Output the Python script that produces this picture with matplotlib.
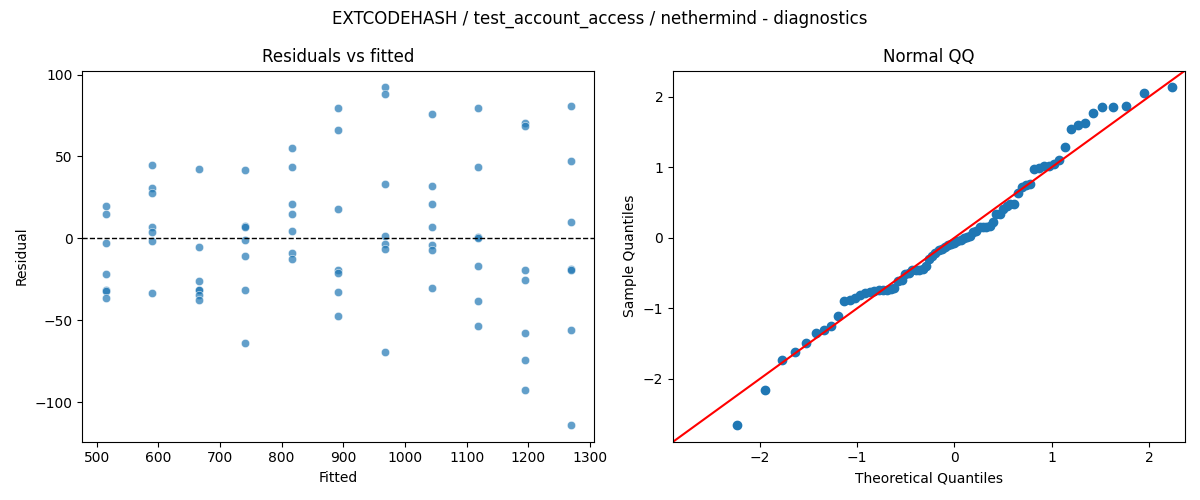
import numpy as np
import matplotlib
matplotlib.use("Agg")
import matplotlib.pyplot as plt
import seaborn as sns
from statistics import NormalDist

# Fitted value levels (x positions of the residual columns)
fitted_levels = [514.5, 590, 665.5, 741, 816.5, 892, 967.5, 1043, 1118.5, 1194, 1269]

# Residuals at each fitted level
resid_515 = [19.5, 14.6, -3.1, -21.7, -31.4, -32.1, -36.3]
resid_590 = [45.0, 31.0, 27.4, 6.9, 3.9, -1.8, -33.3]
resid_666 = [42.6, -5.5, -26.1, -31.2, -31.8, -34.3, -37.4]
resid_741 = [41.9, 7.6, 6.9, -1.2, -10.9, -31.6, -63.9]
resid_817 = [55.4, 43.8, 20.7, 14.6, 4.3, -9.1, -12.8]
resid_892 = [79.7, 66.3, 17.7, -19.3, -21.3, -32.9, -47.5]
resid_968 = [92.1, 88.3, 32.9, 1.4, -3.5, -6.7, -69.4]
resid_1043 = [76.0, 32.2, 20.7, 6.9, -4.1, -7.3, -30.4]
resid_1118 = [79.7, 43.8, 0.8, 0.4, -17.0, -38.2, -53.6]
resid_1194 = [70.2, 68.6, -19.5, -25.5, -57.9, -74.3, -92.5]
resid_1269 = [80.5, 47.5, 9.7, -18.5, -19.5, -56.0, -113.8]

resid_groups = [resid_515, resid_590, resid_666, resid_741, resid_817, resid_892,
                resid_968, resid_1043, resid_1118, resid_1194, resid_1269]

fitted = np.concatenate([[f] * len(g) for f, g in zip(fitted_levels, resid_groups)])
resid = np.concatenate([np.array(g, dtype=float) for g in resid_groups])

# QQ computation (normal, standardized sample, plotting positions i/(n+1))
n = len(resid)
nd = NormalDist()
theo = np.array([nd.inv_cdf(i / (n + 1)) for i in range(1, n + 1)])
sample = np.sort((resid - resid.mean()) / resid.std())

fig, (ax1, ax2) = plt.subplots(1, 2, figsize=(12, 5), dpi=100)

sns.scatterplot(x=fitted, y=resid, alpha=0.7, ax=ax1)
ax1.axhline(0, color="black", linestyle="--", linewidth=1)
ax1.set_title("Residuals vs fitted")
ax1.set_xlabel("Fitted")
ax1.set_ylabel("Residual")

ax2.plot(theo, sample, "o", color="C0", markersize=6)
lims = (-2.89, 2.37)
ax2.plot(lims, lims, color="red")
ax2.set_xlim(lims)
ax2.set_ylim(lims)
ax2.set_title("Normal QQ")
ax2.set_xlabel("Theoretical Quantiles")
ax2.set_ylabel("Sample Quantiles")

fig.suptitle("EXTCODEHASH / test_account_access / nethermind - diagnostics")
fig.tight_layout()
fig.savefig("out.png", dpi=100)
